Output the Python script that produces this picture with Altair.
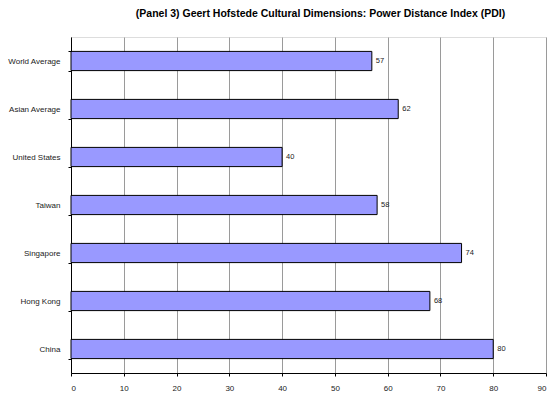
import altair as alt
import pandas as pd

# Power Distance Index scores by country / region
categories = ["World Average", "Asian Average", "United States", "Taiwan",
              "Singapore", "Hong Kong", "China"]
pdi_values = [57, 62, 40, 58, 74, 68, 80]
x_ticks = [0, 10, 20, 30, 40, 50, 60, 70, 80, 90]

df = pd.DataFrame({"country": categories, "pdi": pdi_values})

FONT = "Liberation Sans"

y_enc = alt.Y(
    "country:N",
    sort=categories,
    title=None,
    scale=alt.Scale(paddingInner=0.6, paddingOuter=0.3),
    axis=alt.Axis(
        tickBand="extent",
        tickSize=3,
        tickColor="black",
        domainColor="black",
        labelFont=FONT,
        labelFontSize=8,
        labelColor="#222222",
        labelPadding=8,
        grid=False,
    ),
)

x_enc = alt.X(
    "pdi:Q",
    title=None,
    scale=alt.Scale(domain=[0, 90], nice=False),
    axis=alt.Axis(
        values=x_ticks,
        tickSize=3,
        tickColor="black",
        domainColor="black",
        gridColor="#9a9a9a",
        gridWidth=1,
        labelFont=FONT,
        labelFontSize=8,
        labelColor="#222222",
        labelPadding=8,
    ),
)

bars = alt.Chart(df).mark_bar(
    color="#9999ff", stroke="black", strokeWidth=1
).encode(x=x_enc, y=y_enc)

labels = alt.Chart(df).mark_text(
    align="left", baseline="middle", dx=4, font=FONT, fontSize=7.5, color="#222222"
).encode(x="pdi:Q", y=alt.Y("country:N", sort=categories), text="pdi:Q")

chart = (
    alt.layer(bars, labels)
    .properties(
        width=475,
        height=336,
        autosize=alt.AutoSizeParams(type="none"),
        padding={"left": 71, "top": 37, "right": 5, "bottom": 20},
        title=alt.TitleParams(
            "(Panel 3) Geert Hofstede Cultural Dimensions: Power Distance Index (PDI)",
            font=FONT,
            fontSize=10.5,
            fontWeight="bold",
            color="black",
            anchor="middle",
            offset=14,
            dx=12,
        ),
    )
    .configure_view(stroke="#9a9a9a", strokeWidth=1)
    .configure(background="white")
)

chart.save("out.html", embed_options={"renderer": "svg", "actions": False})
